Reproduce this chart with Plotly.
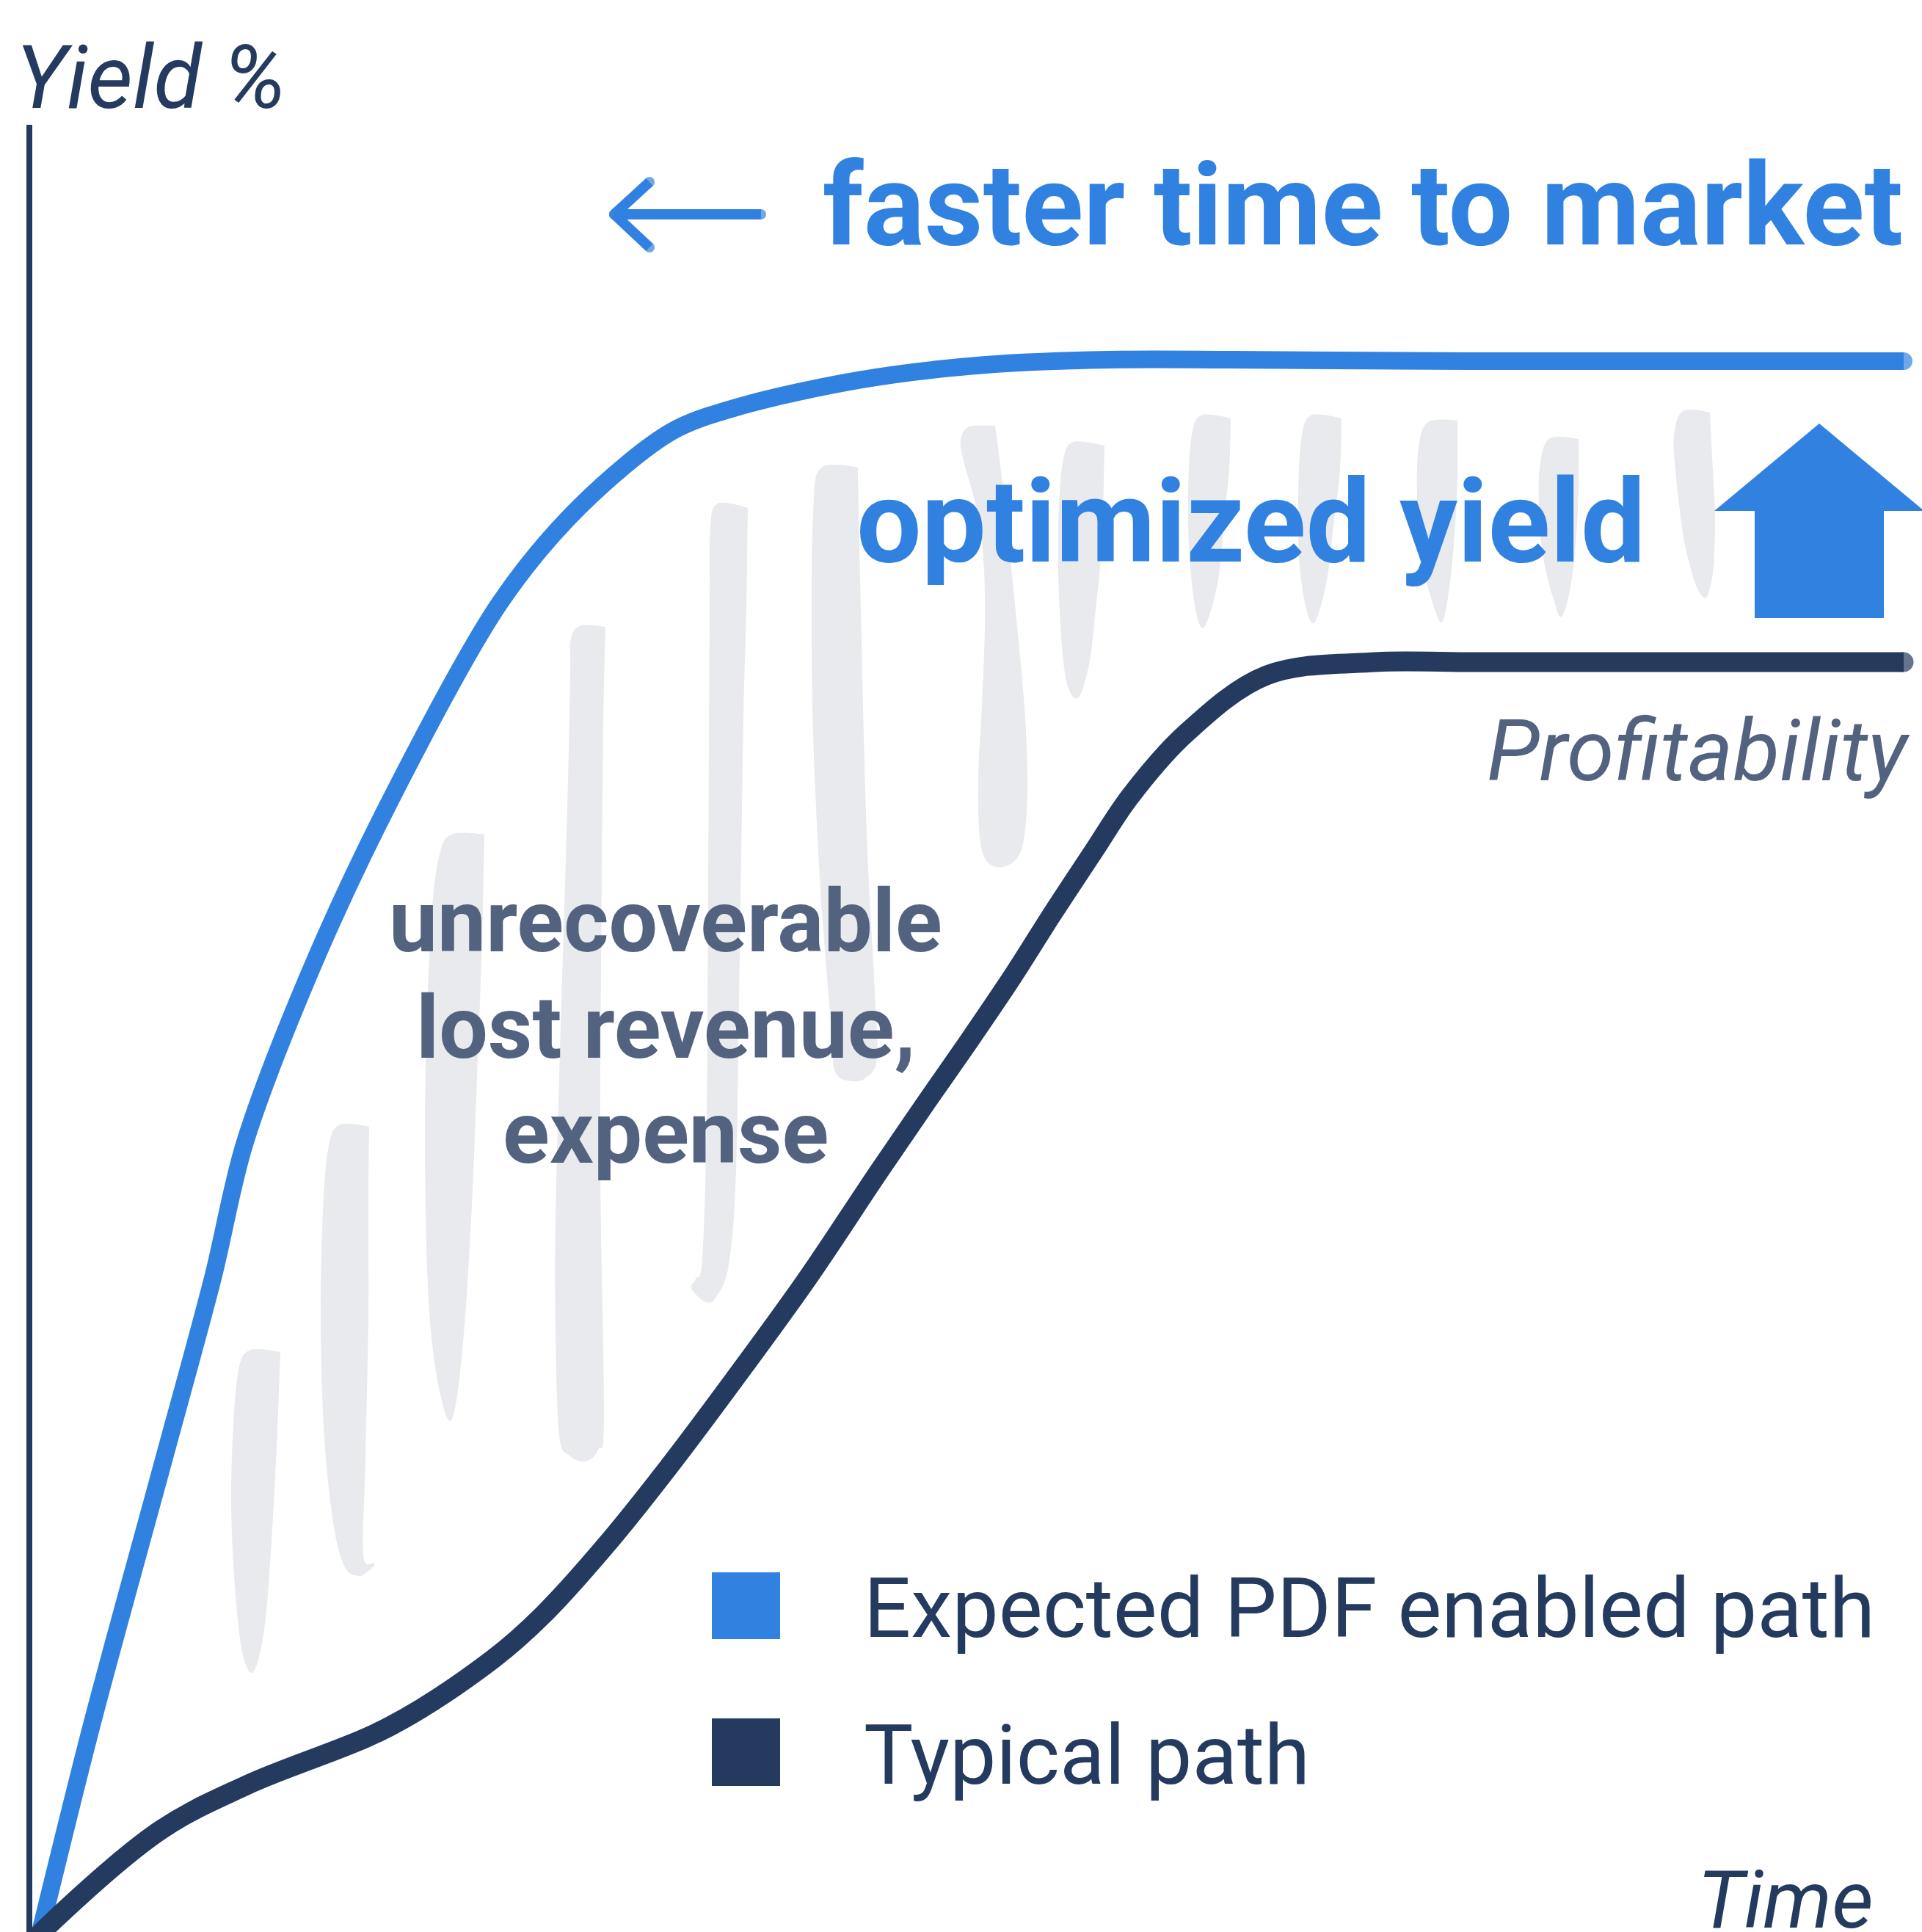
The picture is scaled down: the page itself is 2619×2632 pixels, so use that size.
import plotly.graph_objects as go

W, H = 2619, 2632

# ---------------- data (time -> yield) ----------------
pdf_time = [50, 125, 220, 290, 333, 420, 527, 682, 790, 915, 1007, 1175, 1343, 1511, 1679, 2000, 2594]
pdf_yield = [-20, 282, 632, 891, 1073, 1302, 1532, 1812, 1942, 2044, 2078, 2115, 2135, 2142, 2142, 2140, 2140]

typ_time = [45, 66, 219, 336, 531, 672, 740, 830, 910, 1000, 1100, 1197, 1262, 1315, 1380,
            1434, 1490, 1540, 1615, 1726, 1874, 2000, 2594]
typ_yield = [-13, 9, 139, 200, 280, 372, 432, 532, 632, 752, 890, 1035, 1130, 1206, 1302,
             1387, 1472, 1547, 1632, 1712, 1730, 1730, 1730]

series_names = ["Expected PDF enabled path", "Typical path"]
y_title = "Yield %"
x_title = "Time"
headline = "faster time to market"
gain_label = "optimized yield"
loss_lines = ["unrecoverable", "lost revenue,", "expense"]
profit_label = "Profitability"

BLUE = "#3181e1"
NAVY = "#253a5f"
SLATE = "#52627f"
BRUSH = "#e9eaee"
FONT = "Roboto"

# ---------------- decorative brush strokes (outline, screen px; first point = sharp corner) ----------------
strokes = [
    [(382,1842),(378,1950),(370,2100),(360,2220),(345,2278),(330,2250),(320,2160),(315,2050),(318,1940),(326,1862),(342,1839)],
    [(503,1535),(502,1650),(502,1794),(498,1990),(495,2118),(510,2130),(500,2142),(488,2147),(470,2135),(455,2080),(442,1960),(437,1800),(440,1650),(448,1560),(464,1532)],
    [(660,1137),(657,1279),(650,1470),(642,1662),(630,1840),(616,1933),(600,1900),(586,1800),(580,1650),(580,1450),(588,1250),(600,1160),(618,1136)],
    [(825,854),(822,1000),(820,1202),(818,1585),(823,1929),(815,1975),(797,1991),(775,1982),(762,1955),(757,1815),(757,1662),(763,1432),(773,1100),(777,919),(778,870),(792,852)],
    [(1019,692),(1017,830),(1013,983),(1008,1300),(1003,1595),(993,1723),(975,1768),(960,1773),(942,1755),(948,1742),(957,1715),(963,1518),(965,1200),(967,830),(968,720),(978,686)],
    [(1169,637),(1173,830),(1181,1135),(1192,1350),(1195,1442),(1180,1468),(1160,1473),(1138,1460),(1133,1403),(1118,1212),(1108,1000),(1106,830),(1108,700),(1118,638)],
    [(1356,580),(1365,650),(1378,773),(1395,950),(1400,1059),(1397,1130),(1388,1166),(1367,1181),(1345,1174),(1335,1140),(1333,1059),(1338,960),(1342,850),(1340,760),(1330,690),(1311,620),(1310,595),(1322,581)],
    [(1505,607),(1503,700),(1499,773),(1493,830),(1485,900),(1470,950),(1455,935),(1447,880),(1442,780),(1443,690),(1449,625),(1463,602)],
    [(1677,570),(1675,640),(1668,707),(1660,790),(1642,853),(1630,835),(1621,760),(1619,680),(1623,600),(1636,566)],
    [(1828,570),(1826,640),(1818,707),(1808,790),(1792,847),(1780,830),(1770,760),(1769,680),(1773,600),(1786,566)],
    [(1986,573),(1986,650),(1982,730),(1975,800),(1966,846),(1955,830),(1937,760),(1931,680),(1933,610),(1946,575)],
    [(2151,598),(2151,660),(2148,730),(2140,800),(2128,840),(2118,820),(2103,760),(2097,690),(2099,630),(2112,597)],
    [(2330,562),(2334,640),(2337,701),(2335,772),(2328,808),(2322,814),(2312,800),(2300,760),(2292,719),(2283,640),(2281,594),(2293,560)],
]


def smooth_closed_path(pts):
    p = [(x, H - y) for x, y in pts]
    n = len(p)
    d = "M %.1f,%.1f" % p[0]
    for i in range(n):
        i0, i1, i2, i3 = (i - 1) % n, i, (i + 1) % n, (i + 2) % n
        p0, p1, p2, p3 = p[i0], p[i1], p[i2], p[i3]
        if i1 == 0:
            c1 = p1
        else:
            c1 = (p1[0] + (p2[0] - p0[0]) / 6, p1[1] + (p2[1] - p0[1]) / 6)
        if i2 == 0:
            c2 = p2
        else:
            c2 = (p2[0] - (p3[0] - p1[0]) / 6, p2[1] - (p3[1] - p1[1]) / 6)
        d += " C %.1f,%.1f %.1f,%.1f %.1f,%.1f" % (c1 + c2 + p2)
    return d + " Z"


shapes = []
for s in strokes:
    shapes.append(dict(type="path", path=smooth_closed_path(s), xref="x", yref="y",
                       fillcolor=BRUSH, line=dict(width=0), layer="below"))

# y axis line
shapes.append(dict(type="line", xref="x", yref="y", x0=40, x1=40, y0=H - 170, y1=-10,
                   line=dict(color=NAVY, width=8), layer="above"))

# big up arrow
up = [(2479, 577), (2622, 696), (2567, 696), (2567, 842), (2391, 842), (2391, 696), (2336, 696)]
shapes.append(dict(type="path", xref="x", yref="y",
                   path="M " + " L ".join("%d,%d" % (x, H - y) for x, y in up) + " Z",
                   fillcolor=BLUE, line=dict(width=0), layer="above"))

# legend swatches
shapes.append(dict(type="rect", xref="x", yref="y", x0=970, x1=1063, y0=H - 2233, y1=H - 2142,
                   fillcolor=BLUE, line=dict(width=0)))
shapes.append(dict(type="rect", xref="x", yref="y", x0=970, x1=1063, y0=H - 2433, y1=H - 2341,
                   fillcolor=NAVY, line=dict(width=0)))

fig = go.Figure()

# left arrow (faster time to market): separate strokes with round ends
arr_x = [885, 837, None, 885, 837, None, 837, 1037]
arr_y = [H - 248, H - 292, None, H - 337, H - 292, None, H - 292, H - 292]
fig.add_trace(go.Scatter(x=arr_x, y=arr_y, mode="lines+markers",
                         line=dict(color=BLUE, width=14),
                         marker=dict(color=BLUE, size=[14, 14, 0, 14, 14, 0, 14, 14], line=dict(width=0)),
                         hoverinfo="skip", showlegend=False))

fig.add_trace(go.Scatter(x=pdf_time, y=pdf_yield, mode="lines+markers", name=series_names[0],
                         line=dict(color=BLUE, width=24, shape="spline", smoothing=0.9),
                         marker=dict(color=BLUE, size=[0] * (len(pdf_time) - 1) + [24], line=dict(width=0)),
                         hoverinfo="skip", showlegend=False))
fig.add_trace(go.Scatter(x=typ_time, y=typ_yield, mode="lines+markers", name=series_names[1],
                         line=dict(color=NAVY, width=27, shape="spline", smoothing=1.0),
                         marker=dict(color=NAVY, size=[0] * (len(typ_time) - 1) + [27], line=dict(width=0)),
                         hoverinfo="skip", showlegend=False))

annotations = []


def label(text, x, baseline, size, color, weight="normal", style="normal", xanchor="left"):
    annotations.append(dict(text=text, x=x, y=H - baseline + 0.34 * size, xref="x", yref="y",
                            xanchor=xanchor, yanchor="middle", showarrow=False, borderpad=0,
                            font=dict(family=FONT, size=size, color=color, weight=weight, style=style)))


label(y_title, 20, 147, 120, NAVY, style="italic")
label(headline, 1120, 333, 155.5, BLUE, weight="bold")
label(gain_label, 1166, 764, 157, BLUE, weight="bold")
for line_text, base in zip(loss_lines, [1296, 1441, 1584]):
    label(line_text, 907, base, 118, SLATE, weight="bold", xanchor="center")
label(profit_label, 2604, 1063, 117, SLATE, style="italic", xanchor="right")
label(x_title, 2554, 2626, 110, NAVY, style="italic", xanchor="right")
label(series_names[0], 1176, 2230, 113, NAVY)
label(series_names[1], 1176, 2430, 113, NAVY)

fig.update_layout(
    width=W, height=H, margin=dict(l=0, r=0, t=0, b=0),
    paper_bgcolor="white", plot_bgcolor="white",
    xaxis=dict(range=[0, W], visible=False, fixedrange=True),
    yaxis=dict(range=[0, H], visible=False, fixedrange=True),
    shapes=shapes, annotations=annotations, showlegend=False, hovermode=False,
)

fig.write_html("out.html", config={"displayModeBar": False, "staticPlot": True},
               post_script="document.body.style.margin='0';document.body.style.padding='0';"
                           "document.body.style.overflow='hidden';")
